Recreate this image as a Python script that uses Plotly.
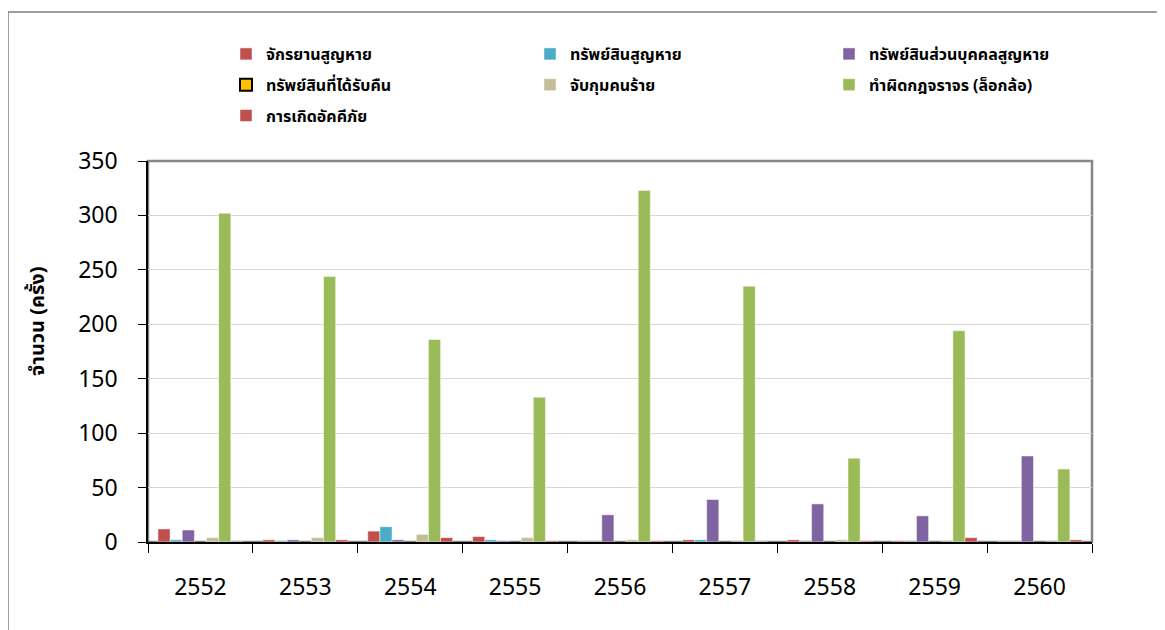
import plotly.graph_objects as go

years = ['2552', '2553', '2554', '2555', '2556', '2557', '2558', '2559', '2560']

series_names = [
    'จักรยานสูญหาย',
    'ทรัพย์สินสูญหาย',
    'ทรัพย์สินส่วนบุคคลสูญหาย',
    'ทรัพย์สินที่ได้รับคืน',
    'จับกุมคนร้าย',
    'ทำผิดกฎจราจร (ล็อกล้อ)',
    'การเกิดอัคคีภัย',
]

bike_lost = [12, 2, 10, 5, 0, 2, 2, 1, 0]
property_lost = [2, 1, 14, 2, 0, 2, 0, 0, 0]
personal_lost = [11, 2, 2, 1, 25, 39, 35, 24, 79]
returned = [0, 0, 0, 0, 0, 0, 0, 0, 0]
arrested = [4, 4, 7, 4, 2, 0, 2, 0, 0]
traffic = [302, 244, 186, 133, 323, 235, 77, 194, 67]
fire = [0, 2, 4, 1, 1, 0, 1, 4, 2]

values = [bike_lost, property_lost, personal_lost, returned, arrested, traffic, fire]
colors = ['#c0504d', '#4bacc6', '#8064a2', '#ffc000', '#c4bd97', '#9bbb59', '#c0504d']
# legend in 3 columns like the original
legend_of = ['legend', 'legend2', 'legend3', 'legend', 'legend2', 'legend3', 'legend']

FONT = 'Tahoma, Noto Sans Thai, Noto Sans, DejaVu Sans, sans-serif'

# figure sits 8px in from the page corner, plot area is x 140..1084, y 153..534 (figure px)
W, H = 1157, 622
L, T, R, B = 140, 153, 73, 88
PW, PH = W - L - R, H - T - B


def px_x(x):
    return (x - L) / PW


def px_y(y):
    return (H - B - y) / PH


fig = go.Figure()
for i, name in enumerate(series_names):
    yy = values[i]
    if i == 3:
        # black-edged legend key; zero bars would leave a black stub, so hide them
        yy = [v if v else None for v in yy]
    fig.add_trace(go.Bar(
        x=years, y=yy, name=name,
        marker=dict(
            color=colors[i],
            line=dict(color='black' if i == 3 else 'rgba(255,255,255,0.6)',
                      width=2 if i == 3 else 0.8),
        ),
        legend=legend_of[i],
        legendgroup=str(i),
    ))

leg_common = dict(
    orientation='v', xanchor='left', yanchor='top',
    bgcolor='rgba(0,0,0,0)', tracegroupgap=7,
    font=dict(family=FONT, size=16, color='black', weight='bold'),
    itemwidth=30, traceorder='grouped',
)
fig.update_layout(
    width=W, height=H,
    margin=dict(l=L, r=R, t=T, b=B),
    paper_bgcolor='white', plot_bgcolor='white',
    barmode='group', bargap=0.19, bargroupgap=0,
    font=dict(family=FONT, color='black'),
    showlegend=True,
    legend=dict(x=px_x(218), y=px_y(29), **leg_common),
    legend2=dict(x=px_x(522), y=px_y(29), **leg_common),
    legend3=dict(x=px_x(821), y=px_y(29), **leg_common),
    xaxis=dict(
        showline=True, linecolor='black', linewidth=1.5,
        ticks='outside', tickson='boundaries', ticklen=9, tickcolor='black',
        tickfont=dict(size=23, family=FONT),
        ticklabelstandoff=24,
        showgrid=False,
    ),
    yaxis=dict(
        range=[0, 350], dtick=50,
        showline=True, linecolor='black', linewidth=1.5,
        ticks='outside', ticklen=8, tickcolor='black',
        tickfont=dict(size=23, family=FONT),
        ticklabelstandoff=16,
        showgrid=True, gridcolor='#d9d9d9', gridwidth=1,
        zeroline=False,
    ),
    annotations=[
        dict(text='<b>จำนวน (ครั้ง)</b>', textangle=-90,
             xref='paper', yref='paper', x=px_x(30), y=px_y(314),
             xanchor='center', yanchor='middle', showarrow=False,
             font=dict(size=20, family=FONT, color='black')),
    ],
    shapes=[
        # outer chart border
        dict(type='rect', xref='paper', yref='paper', layer='below',
             x0=px_x(0), x1=px_x(W + 10), y0=px_y(H + 10), y1=px_y(4),
             line=dict(color='#808080', width=1.5)),
        # plot area border
        dict(type='rect', xref='paper', yref='paper', layer='below',
             x0=0, x1=1, y0=0, y1=1,
             line=dict(color='#868686', width=2.5)),
    ],
)

fig.write_html('out.html')
